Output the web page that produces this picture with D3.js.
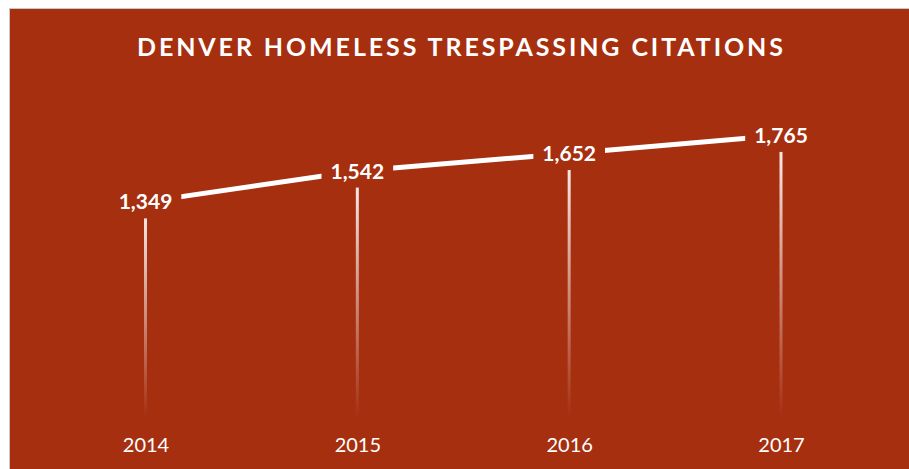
<!DOCTYPE html>
<html>
<head>
<meta charset="utf-8">
<script src="https://cdn.jsdelivr.net/npm/d3@7"></script>
<style>
  html, body { margin: 0; padding: 0; background: #ffffff; }
  svg { display: block; }
</style>
</head>
<body>
<svg id="chart" width="909" height="469"></svg>
<script>
const title = "DENVER HOMELESS TRESPASSING CITATIONS";
const years = ["2014", "2015", "2016", "2017"];
const citations = [1349, 1542, 1652, 1765];
const yDomain = [0, 2000];

const W = 909, H = 469;
const bg = "#A62F10";
const svg = d3.select("#chart");
const fontFamily = "Lato, 'Open Sans', sans-serif";

// panel with thin gray border at top/left
svg.append("rect").attr("x", 9.5).attr("y", 8.5).attr("width", W).attr("height", H)
  .attr("fill", bg).attr("stroke", "#c8c8c8").attr("stroke-width", 1);

const x = d3.scalePoint().domain(years).range([145.5, 781]);
const y = d3.scaleLinear().domain(yDomain).range([417.5, 97.8]);

// gradient for drop lines
const defs = svg.append("defs");
const grad = defs.append("linearGradient").attr("id", "dropGrad")
  .attr("x1", 0).attr("y1", 0).attr("x2", 0).attr("y2", 1);
grad.append("stop").attr("offset", "0%").attr("stop-color", "#ffffff").attr("stop-opacity", 0.95);
grad.append("stop").attr("offset", "100%").attr("stop-color", "#ffffff").attr("stop-opacity", 0);

const data = years.map((yr, i) => ({ year: yr, value: citations[i] }));

// drop lines
svg.append("g").selectAll("rect.drop").data(data).join("rect")
  .attr("class", "drop")
  .attr("x", d => x(d.year) - 1.5)
  .attr("y", d => y(d.value))
  .attr("width", 3)
  .attr("height", d => y(0) - y(d.value))
  .attr("fill", "url(#dropGrad)");

// line
const line = d3.line().x(d => x(d.year)).y(d => y(d.value));
svg.append("path").datum(data)
  .attr("d", line)
  .attr("fill", "none")
  .attr("stroke", "#ffffff")
  .attr("stroke-width", 5);

// data labels with background boxes
const fmt = d3.format(",");
const lblG = svg.append("g").selectAll("g").data(data).join("g")
  .attr("transform", d => `translate(${x(d.year)},${y(d.value)})`);
lblG.append("rect").attr("fill", bg);
lblG.append("text")
  .attr("text-anchor", "middle")
  .attr("dy", "0.36em")
  .attr("fill", "#ffffff")
  .attr("font-family", fontFamily)
  .attr("font-weight", "bold")
  .attr("font-size", 21)
  .text(d => fmt(d.value));
lblG.each(function() {
  const t = d3.select(this).select("text").node().getBBox();
  d3.select(this).select("rect")
    .attr("x", t.x - 9).attr("y", t.y - 5)
    .attr("width", t.width + 18).attr("height", t.height + 10);
});

// x axis labels
const xAxis = d3.axisBottom(x).tickSize(0).tickPadding(0);
const ax = svg.append("g").attr("transform", "translate(0,438)").call(xAxis);
ax.select(".domain").remove();
ax.selectAll("text")
  .attr("fill", "#ffffff")
  .attr("font-family", fontFamily)
  .attr("font-size", 20)
  .attr("dy", "0.71em");

// title
const tt = svg.append("text")
  .attr("x", 460)
  .attr("y", 55.5)
  .attr("text-anchor", "middle")
  .attr("fill", "#ffffff")
  .attr("font-family", fontFamily)
  .attr("font-weight", "bold")
  .attr("font-size", 25)
  .text(title);
// fit letter spacing to reference width
const targetW = 646;
const baseW = tt.node().getComputedTextLength();
const ls = (targetW - baseW) / (title.length - 1);
tt.attr("letter-spacing", ls + "px").attr("x", 460 + ls / 2);
</script>
</body>
</html>
